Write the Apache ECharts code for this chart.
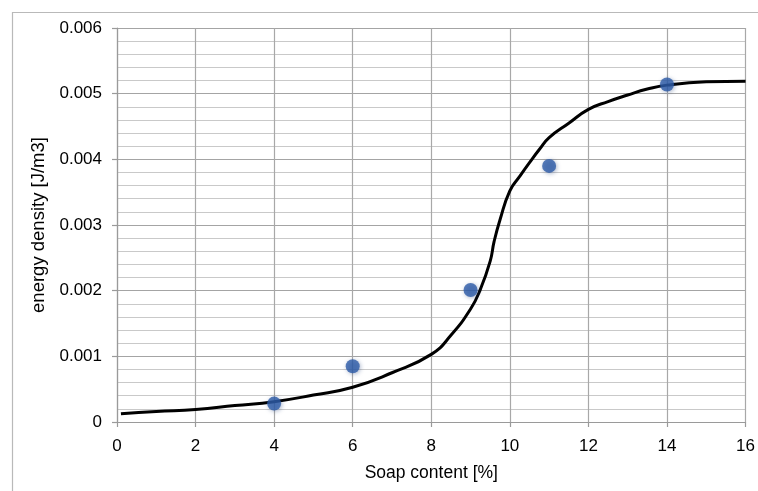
<!DOCTYPE html>
<html>
<head>
<meta charset="utf-8">
<style>
  html, body { margin: 0; padding: 0; background: #fff; }
  #chart { width: 758px; height: 491px; }
</style>
<script src="https://cdn.jsdelivr.net/npm/echarts@6/dist/echarts.min.js"></script>
</head>
<body>
<div id="chart"></div>
<script>
// Measured data points (Soap content %, energy density J/m3)
const pointX = [4, 6, 9, 11, 14];
const pointY = [0.00028, 0.00085, 0.00201, 0.0039, 0.00514];

// Fitted curve
const curveX = [0.1, 1, 2, 3, 4, 5, 6, 7, 8, 8.5, 9, 9.25, 9.5, 9.6, 9.75, 10, 10.25, 10.5, 10.75, 11, 11.5, 12, 12.5, 13, 13.5, 14, 15, 16];
const curveY = [0.000125, 0.00016, 0.00019, 0.00025, 0.00031, 0.00041, 0.00053, 0.00075, 0.00103, 0.00132, 0.00172, 0.00202, 0.00245, 0.00275, 0.00308, 0.00352, 0.00374, 0.00395, 0.00415, 0.00433, 0.00455, 0.00476, 0.00488, 0.00498, 0.00507, 0.00513, 0.00518, 0.00519];

const xTicks = [0, 2, 4, 6, 8, 10, 12, 14, 16];
const yTickLabels = ['0', '0.001', '0.002', '0.003', '0.004', '0.005', '0.006'];

const xName = 'Soap content [%]';
const yName = 'energy density [J/m3]';

const chart = echarts.init(document.getElementById('chart'), null, { renderer: 'canvas' });
const font = 'Liberation Sans, Arial, Helvetica, sans-serif';

chart.setOption({
  animation: false,
  backgroundColor: '#ffffff',
  graphic: [{
    type: 'rect',
    shape: { x: 12.5, y: 12.5, width: 900, height: 700 },
    style: { fill: 'none', stroke: '#b9b9b9', lineWidth: 1.2 },
    z: -10
  }],
  grid: { left: 117, right: 12, top: 28, bottom: 69, containLabel: false },
  xAxis: {
    type: 'value',
    min: 0, max: 16, interval: 2,
    name: xName,
    nameLocation: 'middle',
    nameGap: 42,
    nameTextStyle: { fontFamily: font, fontSize: 17.5, color: '#000' },
    axisLine: { show: true, lineStyle: { color: '#9a9a9a', width: 1.2 } },
    axisTick: { show: true, length: 5, lineStyle: { color: '#9a9a9a', width: 1.2 } },
    axisLabel: {
      margin: 16, fontFamily: font, fontSize: 17, color: '#000',
      formatter: v => String(xTicks[Math.round(v / 2)])
    },
    splitLine: { show: true, lineStyle: { color: '#a8a8a8', width: 1.2 } }
  },
  yAxis: {
    type: 'value',
    min: 0, max: 0.006, interval: 0.001,
    name: yName,
    nameLocation: 'middle',
    nameGap: 56,
    nameTextStyle: { fontFamily: font, fontSize: 18.5, color: '#000' },
    axisLine: { show: true, lineStyle: { color: '#9a9a9a', width: 1.2 } },
    axisTick: { show: true, length: 5, lineStyle: { color: '#9a9a9a', width: 1.2 } },
    axisLabel: {
      margin: 15, fontFamily: font, fontSize: 17, color: '#000',
      formatter: v => yTickLabels[Math.round(v / 0.001)]
    },
    splitLine: { show: true, lineStyle: { color: '#a4a4a4', width: 1.2 } },
    minorTick: { show: false, splitNumber: 5 },
    minorSplitLine: { show: true, lineStyle: { color: '#c9c9c9', width: 1.2 } }
  },
  series: [
    {
      type: 'line',
      data: curveX.map((x, i) => [x, curveY[i]]),
      smooth: 0.5,
      showSymbol: false,
      symbol: 'none',
      lineStyle: { color: '#000', width: 3 },
      z: 2
    },
    {
      type: 'scatter',
      data: pointX.map((x, i) => [x, pointY[i]]),
      symbol: 'circle',
      symbolSize: 14,
      itemStyle: {
        color: '#2d5ba7',
        shadowBlur: 4,
        shadowColor: 'rgba(30,60,120,0.45)',
        shadowOffsetX: 1,
        shadowOffsetY: 1
      },
      z: 3
    }
  ]
});
</script>
</body>
</html>
